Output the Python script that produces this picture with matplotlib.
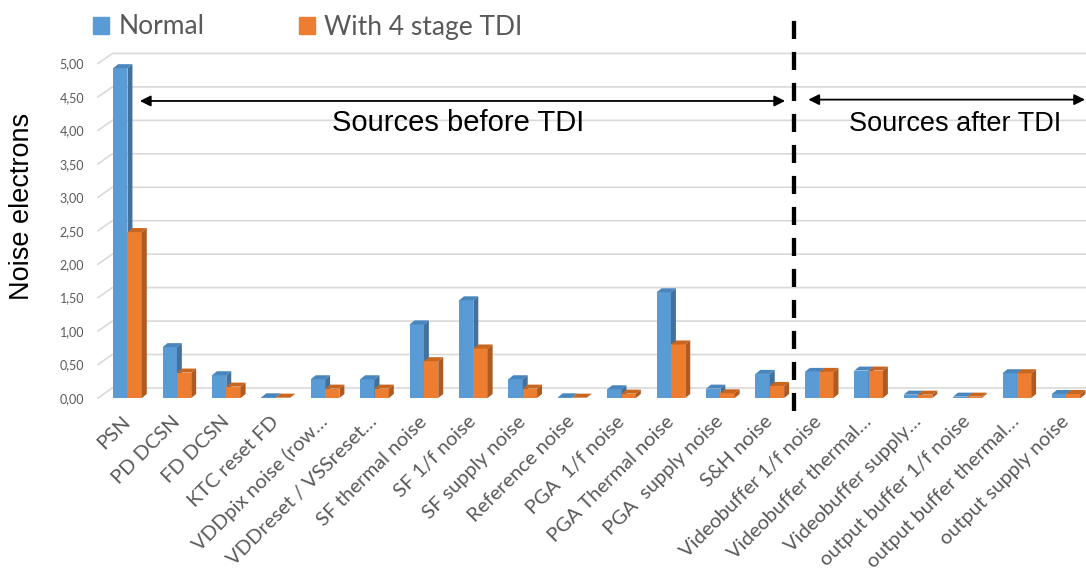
import numpy as np
import matplotlib
matplotlib.use("Agg")
import matplotlib.pyplot as plt
from matplotlib.patches import Polygon, Patch

# data
labels = ["PSN", "PD DCSN", "FD DCSN", "KTC reset FD", "VDDpix noise (row\u2026",
          "VDDreset / VSSreset\u2026", "SF thermal noise", "SF 1/f noise",
          "SF supply noise", "Reference noise", "PGA  1/f noise", "PGA Thermal noise",
          "PGA  supply noise", "S&H noise", "Videobuffer 1/f noise",
          "Videobuffer thermal\u2026", "Videobuffer supply\u2026", "output buffer 1/f noise",
          "output buffer thermal\u2026", "output supply noise"]
normal = [4.93, 0.76, 0.34, 0.01, 0.28, 0.28, 1.10, 1.46, 0.28, 0.01,
          0.13, 1.58, 0.14, 0.36, 0.39, 0.41, 0.05, 0.02, 0.37, 0.06]
tdi4 = [2.48, 0.38, 0.17, 0.005, 0.14, 0.14, 0.55, 0.74, 0.14, 0.005,
        0.065, 0.80, 0.07, 0.18, 0.39, 0.41, 0.05, 0.02, 0.37, 0.06]
yticks = np.arange(0, 5.01, 0.5)
split_at = 13.5  # between S&H and Videobuffer

BLUE, BLUE_SIDE, BLUE_TOP = "#5B9BD5", "#41719C", "#4A86BE"
ORANGE, ORANGE_SIDE, ORANGE_TOP = "#ED7D31", "#AE5A21", "#C8651F"
GREY = "#595959"

fig = plt.figure(figsize=(10.86, 5.78), dpi=100)
ax = fig.add_axes([98/1086, 1-398/578, (1086-98)/1086, (398-63.5)/578])

x = np.arange(len(labels))
w = 0.29
dx, dy = 0.1, 0.06   # fake depth of the 3d bars


def bar3d(x0, h, front, side, top):
    ax.bar(x0, h, width=w, align="edge", color=front, linewidth=0, zorder=3)
    ax.add_patch(Polygon([(x0+w, 0), (x0+w+dx, dy), (x0+w+dx, h+dy), (x0+w, h)],
                         closed=True, color=side, lw=0, zorder=3))
    ax.add_patch(Polygon([(x0, h), (x0+dx, h+dy), (x0+w+dx, h+dy), (x0+w, h)],
                         closed=True, color=top, lw=0, zorder=3))


for i in range(len(labels)):
    bar3d(x[i]-w, normal[i], BLUE, BLUE_SIDE, BLUE_TOP)
    bar3d(x[i], tdi4[i], ORANGE, ORANGE_SIDE, ORANGE_TOP)

ax.set_xlim(-0.597, 19.4)
ax.set_ylim(0, 5)

# back wall gridlines (shifted up/right like excel 3d)
x0g = -0.597
for v in yticks:
    ax.plot([x0g, x0g+0.29, 19.4], [v, v+0.15, v+0.15], color="#D9D9D9",
            lw=1.2, zorder=1, clip_on=False)

for s in ax.spines.values():
    s.set_visible(False)
ax.set_yticks(yticks)
ax.set_yticklabels([f"{v:.2f}".replace(".", ",") for v in yticks],
                   fontsize=9, color=GREY, family="Lato")
ax.tick_params(axis="y", length=0, pad=10)
ax.set_xticks(x)
ax.set_xticklabels(labels, rotation=45, ha="right", va="center",
                   rotation_mode="anchor", fontsize=14.5, color=GREY, family="Lato")
ax.tick_params(axis="x", length=0, pad=15)

ax.set_ylabel("Noise electrons", fontsize=19.5, family="Liberation Sans")
ax.yaxis.set_label_coords(-0.064, 0.574)

# split line and annotations
ax.plot([split_at, split_at], [-0.19, 5.8], color="black", lw=3.1,
        dashes=(4.2, 3.0), clip_on=False, zorder=4)
ax.annotate("", xy=(0.25, 4.44), xytext=(13.31, 4.44),
            arrowprops=dict(arrowstyle="<|-|>", lw=1.3, color="black", mutation_scale=16,
                            shrinkA=0, shrinkB=0), annotation_clip=False)
ax.annotate("", xy=(13.78, 4.46), xytext=(19.38, 4.46),
            arrowprops=dict(arrowstyle="<|-|>", lw=1.3, color="black", mutation_scale=16,
                            shrinkA=0, shrinkB=0), annotation_clip=False)
ax.text(6.69, 4.11, "Sources before TDI", fontsize=21, family="Liberation Sans",
        ha="center", va="center")
ax.text(16.75, 4.09, "Sources after TDI", fontsize=19.5, family="Liberation Sans",
        ha="center", va="center")

fig.legend(handles=[Patch(color=BLUE, label="Normal"),
                    Patch(color=ORANGE, label="With 4 stage TDI")],
           loc="center left", bbox_to_anchor=(80/1086, 1-27/578), ncol=2, frameon=False,
           prop=dict(family="Lato", size=19), labelcolor=GREY, borderpad=0,
           handlelength=0.6, handleheight=0.6, handletextpad=0.35, columnspacing=3.6)

fig.savefig("out.png", dpi=100)
